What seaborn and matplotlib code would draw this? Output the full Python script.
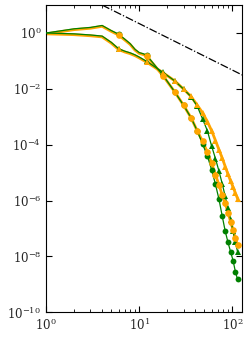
import numpy as np
import matplotlib
matplotlib.use('Agg')
import matplotlib.pyplot as plt
import seaborn as sns

sns.set_theme(style='ticks')
plt.rcParams['font.family'] = ['DejaVu Serif']
plt.rcParams['mathtext.fontset'] = 'dejavuserif'

# wavenumbers (markers on every multiple of 6)
k = [1, 2, 3, 4, 5, 6, 7, 8, 9, 10, 11, 12,
     18, 24, 30, 36, 42, 48, 54, 60, 66, 72, 78, 84, 90, 96, 102, 108, 114]

# log10 of the spectra
green_circ = [0, 0.15, 0.20, 0.27, 0.09, -0.04, -0.22, -0.38, -0.58, -0.70, -0.74, -0.79,
              -1.51, -2.10, -2.59, -3.03, -3.50, -3.98, -4.40, -4.90, -5.42, -5.96,
              -6.56, -7.10, -7.50, -7.84, -8.15, -8.55, -8.82]
orange_circ = [-0.03, 0.12, 0.17, 0.24, 0.06, -0.07, -0.25, -0.41, -0.61, -0.73, -0.77, -0.82,
               -1.53, -2.10, -2.59, -3.03, -3.50, -3.88, -4.27, -4.66, -5.08, -5.44,
               -5.80, -6.10, -6.43, -6.76, -7.05, -7.35, -7.60]
green_tri = [0, -0.03, -0.07, -0.11, -0.33, -0.56, -0.65, -0.71, -0.78, -0.86, -0.94, -1.01,
             -1.41, -1.71, -2.01, -2.28, -2.62, -3.08, -3.50, -4.05, -4.50, -4.95,
             -5.40, -5.85, -6.28, -6.68, -7.10, -7.50, -7.83]
orange_tri = [-0.03, -0.06, -0.10, -0.14, -0.36, -0.59, -0.68, -0.74, -0.81, -0.89, -0.97, -1.04,
              -1.42, -1.71, -2.01, -2.27, -2.58, -2.86, -3.17, -3.50, -3.85, -4.18,
              -4.48, -4.78, -5.06, -5.30, -5.52, -5.73, -5.93]

# k^(-5/3) reference line end points
ref_x = [4, 128]
ref_y = [10.0, 0.0313]

k = np.array(k)
marks = [i for i, kk in enumerate(k) if kk % 6 == 0]

fig = plt.figure(figsize=(2.49, 3.38), dpi=100)
ax = fig.add_axes([0.185, 0.076, 0.788, 0.909])

green = '#008000'
orange = '#FFA500'

# orange lines underneath
for vals in [orange_circ, orange_tri]:
    sns.lineplot(x=k, y=10.0 ** np.array(vals), ax=ax, color=orange, lw=2.0,
                 zorder=2, legend=False)
# green lines + markers
for vals, mk in [(green_circ, 'o'), (green_tri, '^')]:
    sns.lineplot(x=k, y=10.0 ** np.array(vals), ax=ax, color=green, lw=0.9,
                 marker=mk, markersize=4.2, markeredgewidth=0, markevery=marks,
                 zorder=3, legend=False)
# orange markers on top
for vals, mk in [(orange_circ, 'o'), (orange_tri, '^')]:
    sns.lineplot(x=k, y=10.0 ** np.array(vals), ax=ax, color=orange, ls='none',
                 marker=mk, markersize=4.8, markeredgewidth=0, markevery=marks,
                 zorder=4, legend=False)

ax.plot(ref_x, ref_y, color='black', ls='-.', lw=0.9, zorder=5)

ax.set_xscale('log')
ax.set_yscale('log')
ax.set_xlim(1, 128)
ax.set_ylim(1e-10, 1e1)
ax.set_yticks([1e-10, 1e-8, 1e-6, 1e-4, 1e-2, 1e0])
ax.yaxis.set_minor_locator(matplotlib.ticker.NullLocator())
ax.set_xlabel('')
ax.set_ylabel('')
ax.tick_params(which='both', direction='in', top=True, right=True, labelsize=8.5, color='black')
ax.tick_params(which='major', length=4, width=0.8)
ax.tick_params(which='minor', length=2.2, width=0.6)
for s in ax.spines.values():
    s.set_color('black')
    s.set_linewidth(0.8)

fig.savefig('out.png', dpi=100)
